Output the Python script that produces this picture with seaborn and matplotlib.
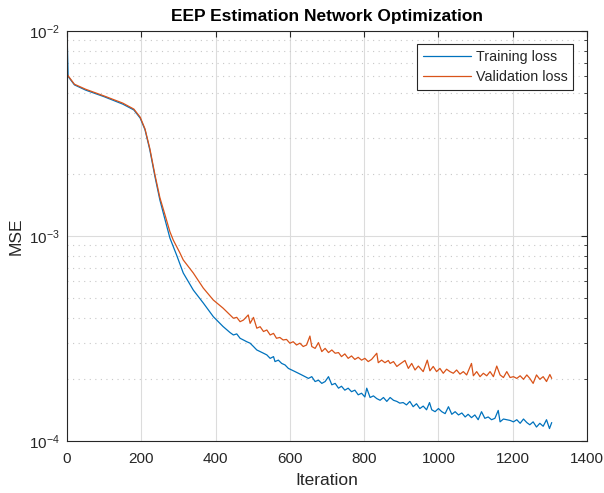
import numpy as np
import pandas as pd
import matplotlib
matplotlib.use("Agg")
import matplotlib.pyplot as plt
import seaborn as sns
from matplotlib.ticker import LogLocator, FixedLocator

# ---- data (MSE values) ----
train_iter = [0, 3, 20, 50, 100, 150, 180, 197, 210, 223, 237, 250, 264, 277, 295,
              313, 340, 367, 394, 420,
              439, 448, 457, 466, 475, 484, 493, 502, 511, 520, 529, 538, 547, 556,
              560, 569, 578, 587, 596, 605, 614, 623, 632, 641, 650, 659, 668, 677,
              686, 695, 704, 713, 722, 731, 739, 748, 757, 766, 775, 784, 793, 802,
              807, 816, 825, 834, 843, 852, 861,
              870, 879, 888, 896, 905, 914, 923, 932, 941, 950, 959, 968, 976, 982,
              991, 1000, 1009, 1018, 1027, 1036, 1045, 1054, 1063, 1072, 1080, 1089,
              1098, 1107, 1116, 1125, 1134, 1143, 1152, 1161, 1166, 1175, 1184, 1193,
              1202, 1211, 1220, 1229, 1238, 1246, 1255, 1264, 1273, 1282, 1291, 1299,
              1305]
train_loss = [1.0e-2, 6.0e-3, 5.46e-3, 5.15e-3, 4.78e-3, 4.40e-3, 4.12e-3, 3.76e-3,
              3.30e-3, 2.63e-3, 1.94e-3, 1.50e-3, 1.20e-3, 9.78e-4, 8.08e-4,
              6.60e-4, 5.45e-4, 4.71e-4, 4.04e-4, 3.62e-4,
              3.38e-4, 3.29e-4, 3.33e-4, 3.17e-4, 3.11e-4, 3.05e-4, 3.00e-4, 2.89e-4,
              2.78e-4, 2.73e-4, 2.68e-4, 2.63e-4, 2.53e-4, 2.58e-4,
              2.44e-4, 2.48e-4, 2.39e-4, 2.35e-4, 2.26e-4, 2.22e-4, 2.18e-4, 2.14e-4,
              2.10e-4, 2.06e-4, 2.02e-4, 2.06e-4, 1.95e-4, 1.98e-4,
              1.91e-4, 1.95e-4, 2.06e-4, 1.88e-4, 1.91e-4, 1.81e-4, 1.85e-4, 1.77e-4,
              1.81e-4, 1.74e-4, 1.77e-4, 1.68e-4, 1.71e-4, 1.64e-4,
              1.81e-4, 1.63e-4, 1.66e-4, 1.61e-4, 1.58e-4, 1.63e-4, 1.56e-4,
              1.63e-4, 1.58e-4, 1.56e-4, 1.53e-4, 1.54e-4, 1.50e-4, 1.56e-4, 1.47e-4,
              1.52e-4, 1.44e-4, 1.48e-4, 1.42e-4, 1.54e-4, 1.42e-4,
              1.39e-4, 1.44e-4, 1.39e-4, 1.36e-4, 1.47e-4, 1.35e-4, 1.39e-4, 1.34e-4,
              1.37e-4, 1.31e-4, 1.35e-4, 1.30e-4,
              1.34e-4, 1.27e-4, 1.39e-4, 1.29e-4, 1.31e-4, 1.27e-4, 1.29e-4, 1.41e-4,
              1.24e-4, 1.28e-4, 1.27e-4, 1.26e-4,
              1.24e-4, 1.27e-4, 1.22e-4, 1.28e-4, 1.23e-4, 1.20e-4, 1.24e-4, 1.17e-4,
              1.22e-4, 1.18e-4, 1.27e-4, 1.15e-4,
              1.23e-4]

val_iter = [0, 20, 50, 100, 150, 180, 197, 210, 223, 237, 250, 264, 277, 286, 304,
            313, 340, 367, 394, 420,
            439, 448, 457, 466, 475, 488, 493, 502, 511, 520, 529, 538, 547, 556,
            564, 573, 582, 591, 600, 609, 618, 627, 636, 645, 654, 659, 668, 677,
            686, 695, 704, 713, 722, 731, 739, 748, 757, 766, 775, 784, 793, 802,
            811, 820, 834, 838, 847, 856, 865,
            870, 879, 888, 896, 910, 919, 928, 937, 946, 959, 970, 977, 986, 995,
            1004, 1013, 1022, 1031, 1040, 1049, 1058, 1067, 1076, 1089, 1094, 1103,
            1112, 1121, 1130, 1139, 1148, 1157, 1166, 1175, 1184, 1193, 1202, 1211,
            1220, 1229, 1238, 1246, 1255, 1264, 1273, 1282, 1291, 1300, 1305]
val_loss = [6.15e-3, 5.50e-3, 5.20e-3, 4.82e-3, 4.45e-3, 4.16e-3, 3.80e-3,
            3.33e-3, 2.67e-3, 1.98e-3, 1.54e-3, 1.265e-3, 1.05e-3, 9.56e-4, 8.27e-4,
            7.64e-4, 6.60e-4, 5.57e-4, 4.87e-4, 4.45e-4,
            4.12e-4, 3.97e-4, 4.01e-4, 3.82e-4, 3.89e-4, 4.12e-4, 3.75e-4, 4.01e-4,
            3.55e-4, 3.61e-4, 3.42e-4, 3.48e-4, 3.29e-4, 3.35e-4,
            3.17e-4, 3.20e-4, 3.11e-4, 3.13e-4, 3.00e-4, 3.05e-4, 2.94e-4, 3.00e-4,
            2.89e-4, 2.94e-4, 3.25e-4, 2.89e-4, 2.83e-4, 3.02e-4,
            2.73e-4, 2.83e-4, 2.70e-4, 2.78e-4, 2.68e-4, 2.70e-4, 2.58e-4, 2.66e-4,
            2.53e-4, 2.60e-4, 2.50e-4, 2.56e-4, 2.48e-4, 2.53e-4,
            2.44e-4, 2.50e-4, 2.68e-4, 2.41e-4, 2.48e-4, 2.41e-4, 2.47e-4,
            2.39e-4, 2.44e-4, 2.31e-4, 2.37e-4, 2.47e-4, 2.26e-4, 2.39e-4, 2.22e-4,
            2.32e-4, 2.18e-4, 2.48e-4, 2.20e-4, 2.31e-4, 2.18e-4,
            2.26e-4, 2.14e-4, 2.24e-4, 2.18e-4, 2.14e-4, 2.22e-4, 2.12e-4, 2.18e-4,
            2.10e-4, 2.39e-4, 2.08e-4, 2.18e-4,
            2.06e-4, 2.14e-4, 2.08e-4, 2.18e-4, 2.06e-4, 2.32e-4, 2.10e-4, 2.04e-4,
            2.18e-4, 2.04e-4, 2.06e-4, 2.02e-4,
            2.08e-4, 2.00e-4, 2.10e-4, 2.02e-4, 1.91e-4, 2.10e-4, 2.00e-4, 2.06e-4,
            1.95e-4, 2.11e-4, 2.02e-4]

series_names = ["Training loss", "Validation loss"]
colors = ["#0072BD", "#D95319"]
x_ticks = [0, 200, 400, 600, 800, 1000, 1200, 1400]

df = pd.concat([
    pd.DataFrame({"Iteration": train_iter, "MSE": train_loss, "Series": series_names[0]}),
    pd.DataFrame({"Iteration": val_iter, "MSE": val_loss, "Series": series_names[1]}),
], ignore_index=True)

sns.set_style("white")
plt.rcParams["font.family"] = ["Liberation Sans", "DejaVu Sans"]
plt.rcParams["mathtext.fontset"] = "custom"
plt.rcParams["mathtext.rm"] = "Liberation Sans"
plt.rcParams["mathtext.it"] = "Liberation Sans:italic"
plt.rcParams["mathtext.bf"] = "Liberation Sans:bold"

fig = plt.figure(figsize=(6.04, 4.93), dpi=100)
ax = fig.add_axes([67/604, 1 - 441/493, (587-67)/604, (441-31)/493])

axcol = "#262626"
sns.lineplot(data=df, x="Iteration", y="MSE", hue="Series", palette=colors,
             estimator=None, sort=False, linewidth=0.9, ax=ax, legend=True)

ax.set_yscale("log")
ax.set_xlim(0, 1400)
ax.set_ylim(1e-4, 1e-2)
ax.set_xticks(x_ticks)
ax.yaxis.set_major_locator(FixedLocator([1e-4, 1e-3, 1e-2]))
ax.yaxis.set_minor_locator(LogLocator(base=10, subs=np.arange(2, 10), numticks=20))

ax.grid(True, which="major", color="#dcdcdc", linewidth=0.8, linestyle="-")
ax.grid(True, which="minor", axis="y", color="#c8c8c8", linewidth=0.8,
        linestyle=(0, (1, 4)))
ax.set_axisbelow(True)

for s in ax.spines.values():
    s.set_visible(True)
    s.set_color(axcol)
    s.set_linewidth(0.8)

ax.tick_params(which="both", direction="in", top=True, right=True,
               colors=axcol, labelsize=11, labelcolor=axcol)
ax.tick_params(which="major", length=4)
ax.tick_params(which="minor", length=2.5)
ax.tick_params(axis="x", pad=8)
ax.tick_params(axis="y", pad=5)

ax.set_xlabel("Iteration", fontsize=12.5, color=axcol, labelpad=5)
ax.set_ylabel("MSE", fontsize=12.5, color=axcol, labelpad=4)
ax.set_title("EEP Estimation Network Optimization", fontsize=12.5,
             fontweight="bold", color="black", pad=7)

handles, labels = ax.get_legend_handles_labels()
leg = ax.legend(handles, labels, loc="upper right",
                bbox_to_anchor=((573-67)/520, (441-44)/410),
                fontsize=10.3, frameon=True, fancybox=False, framealpha=1,
                edgecolor=axcol, borderpad=0.4, handlelength=3.4,
                handletextpad=0.3, labelspacing=0.45, borderaxespad=0)
leg.get_frame().set_linewidth(0.8)

fig.savefig("out.png", dpi=100)
